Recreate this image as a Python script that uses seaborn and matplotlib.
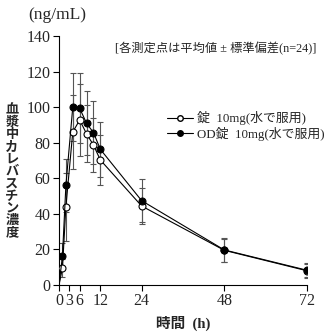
import matplotlib
matplotlib.use("Agg")
import matplotlib.pyplot as plt
import seaborn as sns
import pandas as pd
from matplotlib.lines import Line2D

# ---- data ----
hours = [0, 1, 2, 4, 6, 8, 10, 12, 24, 48, 72]
tab_mean = [0, 9.5, 44.0, 86.0, 92.8, 85.0, 78.7, 70.3, 44.4, 19.5, 8.0]
tab_sd = [0, 5.0, 19.0, 21.0, 20.0, 16.0, 15.0, 14.2, 10.0, 6.5, 4.0]
od_mean = [0, 16.2, 56.0, 100.0, 99.4, 90.9, 85.7, 76.3, 47.4, 19.7, 8.3]
od_sd = [0, 7.5, 15.0, 19.0, 19.6, 18.0, 17.5, 15.6, 12.0, 6.5, 4.0]
series_labels = ["錠  10mg(水で服用)", "OD錠  10mg(水で服用)"]
x_ticks = [0, 3, 6, 12, 24, 48, 72]
y_ticks = [0, 20, 40, 60, 80, 100, 120, 140]

sns.set_style("ticks")
fam = ["Liberation Serif", "Noto Sans CJK JP", "DejaVu Sans"]
plt.rcParams["font.family"] = fam

fig = plt.figure(figsize=(3.24, 3.34), dpi=100)
ax = fig.add_axes([59 / 324, 1 - 285 / 334, 248 / 324, 249 / 334])

df_tab = pd.DataFrame({"t": hours, "v": tab_mean, "sd": tab_sd})
df_od = pd.DataFrame({"t": hours, "v": od_mean, "sd": od_sd})

err_col = "#555555"
for df in (df_tab, df_od):
    ax.errorbar(df["t"][1:], df["v"][1:], yerr=df["sd"][1:], fmt="none",
                ecolor=err_col, elinewidth=0.8, capsize=2, capthick=0.8, zorder=2)

mk = list(range(1, len(hours)))
sns.lineplot(data=df_tab, x="t", y="v", ax=ax, color="black", linewidth=0.8,
             marker="o", markersize=5, markerfacecolor="white",
             markeredgecolor="black", markeredgewidth=0.8, markevery=mk,
             estimator=None, zorder=3)
sns.lineplot(data=df_od, x="t", y="v", ax=ax, color="black", linewidth=0.8,
             marker="o", markersize=5, markerfacecolor="black",
             markeredgecolor="black", markeredgewidth=0.8, markevery=mk,
             estimator=None, zorder=4)

ax.set_xlim(0, 72)
ax.set_ylim(0, 140)
ax.set_xticks(x_ticks)
ax.set_yticks(y_ticks)
ax.tick_params(axis="both", labelsize=11.5, length=4, width=0.8, color="black",
               pad=2)
for lab in ax.get_xticklabels() + ax.get_yticklabels():
    lab.set_fontfamily(fam)
for s in ("left", "bottom"):
    ax.spines[s].set_linewidth(0.8)
    ax.spines[s].set_color("black")
sns.despine(ax=ax)
ax.set_xlabel("時間  (h)", fontsize=10.5, labelpad=5, fontweight="bold")
ax.set_ylabel("")

fig.text(12 / 324, 1 - 172 / 334, "\n".join("血漿中カレバスチン濃度"),
         ha="center", va="center", fontsize=9.5, linespacing=1.03,
         fontweight="bold")
fig.text(57 / 324, 1 - 15 / 334, "(ng/mL)", ha="center", va="center",
         fontsize=12.5)
fig.text(216 / 324, 1 - 49 / 334, "[各測定点は平均値 ± 標準偏差(n=24)]",
         ha="center", va="center", fontsize=8.8)

handles = [
    Line2D([], [], color="black", lw=0.8, marker="o", markersize=4,
           markerfacecolor="white", markeredgecolor="black"),
    Line2D([], [], color="black", lw=0.8, marker="o", markersize=4,
           markerfacecolor="black", markeredgecolor="black"),
]
ax.legend(handles, series_labels, loc="center left",
          bbox_to_anchor=(0.435, 1 - (126 - 36) / 249), frameon=False,
          fontsize=9.3, handlelength=2.0, handletextpad=0.3,
          labelspacing=0.15, borderpad=0.0, borderaxespad=0.0)

fig.savefig("out.png", dpi=100)
